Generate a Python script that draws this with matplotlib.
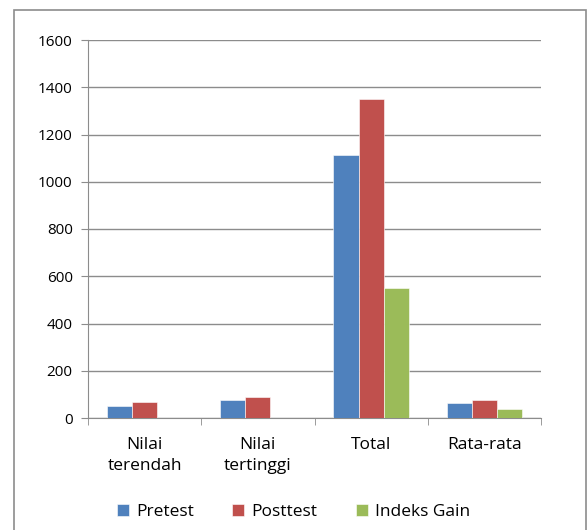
import numpy as np
import matplotlib.pyplot as plt
from matplotlib.patches import Rectangle

categories = ['Nilai\nterendah', 'Nilai\ntertinggi', 'Total', 'Rata-rata']
pretest = [49, 78, 1115, 63]
posttest = [66, 87, 1352, 76]
gain = [0, 0, 550, 37]
series = [('Pretest', pretest, '#4F81BD'),
          ('Posttest', posttest, '#C0504D'),
          ('Indeks Gain', gain, '#9BBB59')]

plt.rcParams['font.family'] = ['Open Sans', 'DejaVu Sans']

W, H = 587, 530
fig = plt.figure(figsize=(W/100, H/100), dpi=100)
ax = fig.add_axes([88/W, 1 - 418/H, (541-88)/W, (418-40)/H])

x = np.arange(len(categories))
w = 0.222
for i, (name, vals, col) in enumerate(series):
    ax.bar(x + (i - 1)*w, vals, width=w, color=col, label=name,
           edgecolor='white', linewidth=0.4, zorder=3)

ax.set_xlim(-0.5, len(categories) - 0.5)
ax.set_ylim(0, 1600)
ax.set_yticks(np.arange(0, 1601, 200))
ax.yaxis.grid(True, color='#8c8c8c', linewidth=1, zorder=0)
ax.set_xticks(x)
ax.set_xticklabels(categories, fontsize=12.5, linespacing=1.35)
ax.set_xticks(np.arange(-0.5, len(categories)), minor=True)
ax.tick_params(axis='x', which='major', length=0, pad=14)
ax.tick_params(axis='x', which='minor', length=5, color='#8c8c8c')
ax.tick_params(axis='y', length=5, color='#8c8c8c', labelsize=11, pad=6)
for s in ['top', 'right']:
    ax.spines[s].set_visible(False)
for s in ['left', 'bottom']:
    ax.spines[s].set_color('#8c8c8c')

leg = fig.legend(loc='center', bbox_to_anchor=(0.5, 1 - 512/H), ncol=3,
                 frameon=False, fontsize=12.5, handlelength=0.7, handleheight=0.7,
                 columnspacing=2.2, handletextpad=0.4)

# outer chart frame (runs off the bottom edge of the picture)
fig.patches.append(Rectangle((14/W, -0.05), (586-14)/W, 1.05 - 10/H,
                             transform=fig.transFigure, fill=False,
                             edgecolor='#8c8c8c', linewidth=1.2))
fig.savefig('out.png', dpi=100)
